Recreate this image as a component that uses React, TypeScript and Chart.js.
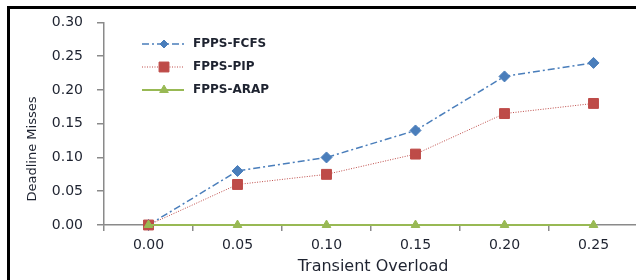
import React, { useEffect, useRef } from "react";
import { Chart, registerables } from "chart.js";

Chart.register(...registerables);

const categories = ["0.00", "0.05", "0.10", "0.15", "0.20", "0.25"];
const fcfs = [0, 0.08, 0.1, 0.14, 0.22, 0.24];
const pip = [0, 0.06, 0.075, 0.105, 0.165, 0.18];
const arap = [0, 0, 0, 0, 0, 0];
const seriesNames = ["FPPS-FCFS", "FPPS-PIP", "FPPS-ARAP"];
const xTitle = "Transient Overload";
const yTitle = "Deadline Misses";

const BLUE = "#4a7ebb";
const RED = "#be4b48";
const GREEN = "#98b954";
const TEXT = "#1e2330";
const AXIS = "#8a8a8a";

const CW = 646;

function drawMarker(ctx: CanvasRenderingContext2D, style: string, x: number, y: number, r: number, color: string) {
  ctx.save();
  ctx.fillStyle = color;
  ctx.strokeStyle = color;
  ctx.lineWidth = 1;
  ctx.setLineDash([]);
  ctx.beginPath();
  if (style === "rectRot") {
    ctx.moveTo(x, y - r);
    ctx.lineTo(x + r, y);
    ctx.lineTo(x, y + r);
    ctx.lineTo(x - r, y);
    ctx.closePath();
  } else if (style === "rect") {
    const s = Math.SQRT1_2 * r;
    ctx.rect(x - s, y - s, 2 * s, 2 * s);
  } else {
    const a = (Math.PI * 2) / 3;
    for (let i = 0; i < 3; i++) {
      const ang = -Math.PI / 2 + i * a;
      const px = x + Math.cos(ang) * r;
      const py = y + Math.sin(ang) * r;
      if (i === 0) ctx.moveTo(px, py);
      else ctx.lineTo(px, py);
    }
    ctx.closePath();
  }
  ctx.fill();
  ctx.stroke();
  ctx.restore();
}

const decorPlugin = {
  id: "decor",
  beforeDraw(chart: any) {
    const ctx = chart.ctx as CanvasRenderingContext2D;
    ctx.save();
    ctx.fillStyle = "#000";
    ctx.fillRect(7, 6, 660, 3);
    ctx.fillRect(7, 6, 3, 280);
    ctx.restore();
  },
  afterDraw(chart: any) {
    const ctx = chart.ctx as CanvasRenderingContext2D;
    // axis titles
    ctx.save();
    ctx.fillStyle = TEXT;
    ctx.font = "16px 'DejaVu Sans'";
    ctx.textAlign = "center";
    ctx.textBaseline = "middle";
    ctx.fillText(xTitle, 373, 267);
    ctx.translate(33, 149);
    ctx.rotate(-Math.PI / 2);
    ctx.font = "13px 'DejaVu Sans'";
    ctx.fillText(yTitle, 0, 0);
    ctx.restore();

    // legend
    const rows = [44, 67, 90];
    const ds = chart.data.datasets;
    ds.forEach((d: any, i: number) => {
      const y = rows[i];
      ctx.save();
      ctx.strokeStyle = d.borderColor;
      ctx.lineWidth = d.borderWidth;
      ctx.setLineDash(d.borderDash || []);
      ctx.beginPath();
      ctx.moveTo(142, y);
      ctx.lineTo(184, y);
      ctx.stroke();
      ctx.restore();
      const lr = i === 0 ? 4 : d.pointRadius;
      drawMarker(ctx, d.pointStyle, 164, y, lr, d.pointBackgroundColor);
      ctx.save();
      ctx.fillStyle = TEXT;
      ctx.font = "bold 12px 'DejaVu Sans'";
      ctx.textAlign = "left";
      ctx.textBaseline = "middle";
      ctx.fillText(d.label, 193, y);
      ctx.restore();
    });
  },
};

export default function App() {
  const ref = useRef<HTMLCanvasElement | null>(null);
  useEffect(() => {
    if (!ref.current) return;
    const chart = new Chart(ref.current, {
      type: "line",
      data: {
        labels: categories,
        datasets: [
          {
            label: seriesNames[0],
            data: fcfs,
            borderColor: BLUE,
            borderWidth: 1.5,
            borderDash: [7, 3, 2, 3],
            pointStyle: "rectRot",
            pointRadius: 5.5,
            pointBackgroundColor: BLUE,
            pointBorderColor: BLUE,
            pointBorderWidth: 1,
            tension: 0,
            order: 2,
            clip: false,
          },
          {
            label: seriesNames[1],
            data: pip,
            borderColor: RED,
            borderWidth: 1,
            borderDash: [1, 1.5],
            pointStyle: "rect",
            pointRadius: 7,
            pointBackgroundColor: RED,
            pointBorderColor: RED,
            pointBorderWidth: 1,
            tension: 0,
            order: 1,
            clip: false,
          },
          {
            label: seriesNames[2],
            data: arap,
            borderColor: GREEN,
            borderWidth: 2,
            pointStyle: "triangle",
            pointRadius: 5,
            pointBackgroundColor: GREEN,
            pointBorderColor: GREEN,
            pointBorderWidth: 1,
            tension: 0,
            order: 0,
            clip: false,
          },
        ] as any,
      },
      options: {
        animation: false,
        responsive: false,
        maintainAspectRatio: false,
        devicePixelRatio: 1,
        layout: { padding: { left: 0, top: 22, right: 0, bottom: 0 } },
        plugins: {
          legend: { display: false },
          tooltip: { enabled: false },
        },
        scales: {
          x: {
            type: "category",
            offset: true,
            border: { display: true, color: AXIS, width: 1.5 },
            grid: {
              offset: true,
              drawOnChartArea: false,
              drawTicks: true,
              tickLength: 6,
              color: AXIS,
              lineWidth: 1.5,
            },
            ticks: {
              color: TEXT,
              font: { family: "'DejaVu Sans'", size: 14 },
              padding: 6,
              maxRotation: 0,
            },
            afterFit: (scale: any) => {
              scale.height = 55;
            },
          },
          y: {
            min: 0,
            max: 0.3,
            border: { display: true, color: AXIS, width: 1.5 },
            grid: {
              drawOnChartArea: false,
              drawTicks: true,
              tickLength: 7,
              color: AXIS,
              lineWidth: 1.5,
            },
            ticks: {
              stepSize: 0.05,
              color: TEXT,
              font: { family: "'DejaVu Sans'", size: 14 },
              padding: 14,
              callback: (v: any) => Number(v).toFixed(2),
            },
            afterFit: (scale: any) => {
              scale.width = 104;
            },
          },
        },
      } as any,
      plugins: [decorPlugin],
    });
    return () => chart.destroy();
  }, []);
  return (
    <div style={{ position: "absolute", left: 0, top: 0, width: 636, height: 280, overflow: "hidden", background: "#fff" }}>
      <canvas ref={ref} width={CW} height={280} style={{ width: CW, height: 280, display: "block" }} />
    </div>
  );
}
